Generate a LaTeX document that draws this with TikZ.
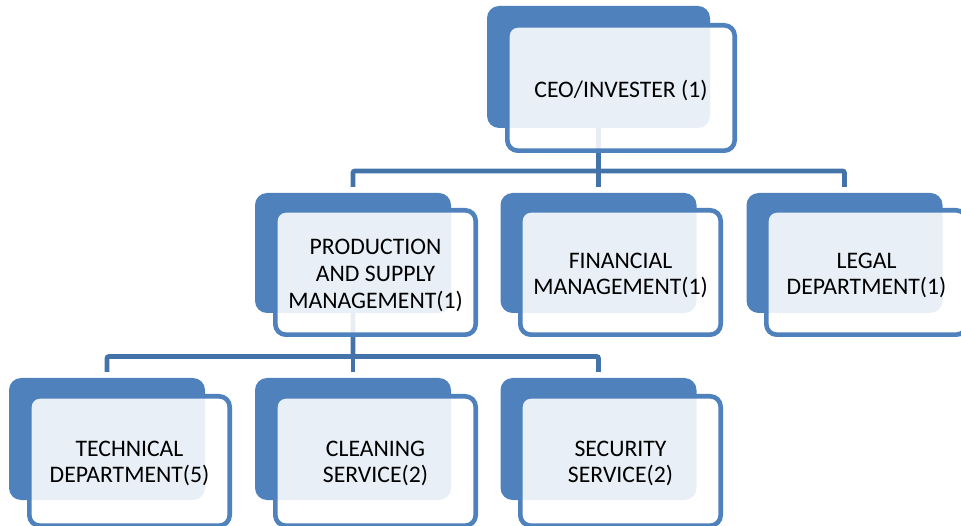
\documentclass[tikz,border=0pt]{standalone}
\usepackage{fontspec}
\setmainfont{Carlito}
\definecolor{boxblue}{HTML}{4F81BD}
\definecolor{linkblue}{HTML}{4473AA}
\begin{document}
\begin{tikzpicture}[x=1pt,y=-1pt,
  backbox/.style={fill=boxblue, rounded corners=12pt, inner sep=0pt, outer sep=0pt},
  frontbox/.style={draw=boxblue, line width=4.6pt, fill=white, fill opacity=0.88,
    rounded corners=10.5pt, inner sep=0pt, outer sep=0pt},
  cardtext/.style={text=black, align=center, inner sep=0pt,
    font=\fontsize{23.7}{26.9}\selectfont},
  link/.style={draw=linkblue, line width=4.8pt, rounded corners=2pt, shorten >=6pt}]
\useasboundingbox (0,0) rectangle (961,526);
\clip (0,0) rectangle (961,526);

% bus levels of the tree
\coordinate (bus1) at (0,171);
\coordinate (bus2) at (0,356.5);

% back plates
\node[backbox, minimum width=223pt, minimum height=122pt] (ceoB) at (598.5,67) {};
\node[backbox, minimum width=196pt, minimum height=120pt] (psmB) at (353,253) {};
\node[backbox, minimum width=196pt, minimum height=120pt] (finB) at (598.5,253) {};
\node[backbox, minimum width=196pt, minimum height=120pt] (legB) at (844.5,253) {};
\node[backbox, minimum width=196pt, minimum height=122pt] (tecB) at (107,439) {};
\node[backbox, minimum width=196pt, minimum height=122pt] (clnB) at (353,439) {};
\node[backbox, minimum width=196pt, minimum height=122pt] (secB) at (598.5,439) {};

% connectors, partly seen through the translucent front cards
\draw[link] (ceoB.south) -- (finB.north);
\draw[link] (ceoB.south) -- (ceoB.south |- bus1) -| (psmB.north);
\draw[link] (ceoB.south |- bus1) -| (legB.north);
\draw[link] (psmB.south) -- (clnB.north);
\draw[link] (psmB.south) -- (psmB.south |- bus2) -| (tecB.north);
\draw[link] (psmB.south |- bus2) -| (secB.north);

% front cards
\node[frontbox, minimum width=227.4pt, minimum height=125.4pt] (ceo) at (621,88) {};
\node[frontbox, minimum width=200.4pt, minimum height=124.4pt] (psm) at (375.5,272.5) {};
\node[frontbox, minimum width=200.4pt, minimum height=124.4pt] (fin) at (620.5,272.5) {};
\node[frontbox, minimum width=200.4pt, minimum height=124.4pt] (leg) at (866.5,272.5) {};
\node[frontbox, minimum width=200.4pt, minimum height=129.4pt] (tec) at (129.5,461) {};
\node[frontbox, minimum width=200.4pt, minimum height=129.4pt] (cln) at (375.5,461) {};
\node[frontbox, minimum width=200.4pt, minimum height=129.4pt] (sec) at (620.5,461) {};

% titles
\node[cardtext] (ceoT) at ([yshift=-2.5pt]ceo.center) {CEO/INVESTER (1)};
\node[cardtext] (psmT) at ([yshift=-3pt]psm.center) {PRODUCTION\\AND SUPPLY\\MANAGEMENT(1)};
\node[cardtext] (finT) at ([yshift=-3pt]fin.center) {FINANCIAL\\MANAGEMENT(1)};
\node[cardtext] (legT) at ([yshift=-3pt]leg.center) {LEGAL\\DEPARTMENT(1)};
\node[cardtext] (tecT) at ([yshift=-2.5pt]tec.center) {TECHNICAL\\DEPARTMENT(5)};
\node[cardtext] (clnT) at ([yshift=-2.5pt]cln.center) {CLEANING\\SERVICE(2)};
\node[cardtext] (secT) at ([yshift=-2.5pt]sec.center) {SECURITY\\SERVICE(2)};
\end{tikzpicture}
\end{document}
